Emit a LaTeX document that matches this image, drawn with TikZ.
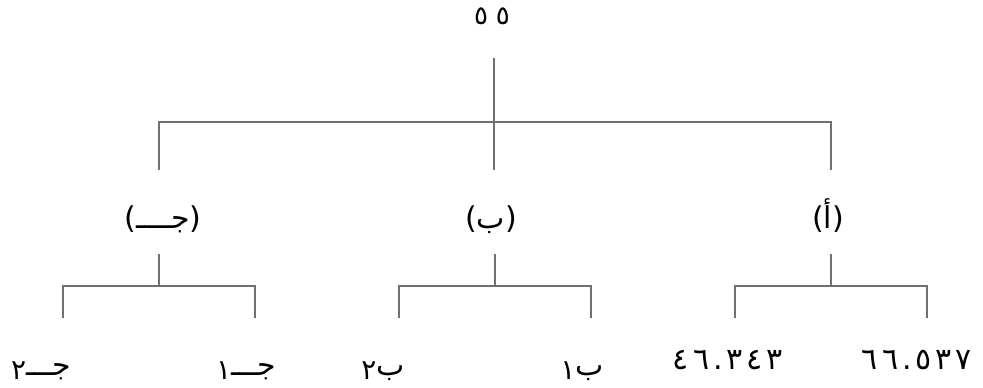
\documentclass[tikz,border=0pt]{standalone}
\usepackage{fontspec}
\TeXXeTstate=1
\newfontfamily\arabicfont[Script=Arabic]{DejaVu Sans}
\definecolor{connc}{RGB}{112,112,112}
\newcommand\subdig[1]{\raisebox{-0.3ex}{\fontsize{28}{30}\selectfont #1}}
\newcommand\dg{\hspace{4pt}}
\begin{document}
\begin{tikzpicture}[x=1pt,y=-1pt,
  lbl/.style={inner sep=0pt,anchor=base,font=\arabicfont\fontsize{30}{34}\selectfont},
  conn/.style={draw=connc,line width=1.3pt}]
\useasboundingbox (0,0) rectangle (983,388);
% texts
\node[lbl,font=\arabicfont\fontsize{26}{30}\selectfont] (top) at (492,24) {٥\hspace{8pt}٥};
\node[lbl] (c) at (163,228) {\beginR(جــــ)\endR};
\node[lbl] (b) at (491,228) {\beginR(ب)\endR};
\node[lbl] (a) at (828,228) {\beginR(أ)\endR};
\node[lbl] (c2) at (41,375) {\beginR جـــ\subdig{٢}\endR};
\node[lbl] (c1) at (246,375) {\beginR جـــ\subdig{١}\endR};
\node[lbl] (b2) at (383,375) {\beginR ب\subdig{٢}\endR};
\node[lbl] (b1) at (582,375) {\beginR ب\subdig{١}\endR};
\node[lbl] (a2) at (728,369) {٤\dg٦\dg.\dg٣\dg٤\dg٣};
\node[lbl] (a1) at (917,369) {٦\dg٦\dg.\dg٥\dg٣\dg٧};
% junctions
\coordinate (t0) at (494,58);
\coordinate (tj) at (494,122);
\coordinate (tl) at (159,122);
\coordinate (tr) at (831,122);
\coordinate (cu) at (159,170);
\coordinate (bu) at (494,170);
\coordinate (au) at (831,170);
\coordinate (cd) at (159,254);
\coordinate (cj) at (159,286);
\coordinate (cl) at (63,286);
\coordinate (cr) at (255,286);
\coordinate (cle) at (63,318);
\coordinate (cre) at (255,318);
\coordinate (bd) at (495,254);
\coordinate (bj) at (495,286);
\coordinate (bl) at (399,286);
\coordinate (br) at (591,286);
\coordinate (ble) at (399,318);
\coordinate (bre) at (591,318);
\coordinate (ad) at (831,254);
\coordinate (aj) at (831,286);
\coordinate (al) at (735,286);
\coordinate (ar) at (927,286);
\coordinate (ale) at (735,318);
\coordinate (are) at (927,318);
% connectors
\draw[conn] (t0) -- (tj);
\draw[conn] (cu) -- (tl) -- (tr) -- (au);
\draw[conn] (tj) -- (bu);
\draw[conn] (cd) -- (cj);
\draw[conn] (cle) -- (cl) -- (cr) -- (cre);
\draw[conn] (bd) -- (bj);
\draw[conn] (ble) -- (bl) -- (br) -- (bre);
\draw[conn] (ad) -- (aj);
\draw[conn] (ale) -- (al) -- (ar) -- (are);
\end{tikzpicture}
\end{document}
